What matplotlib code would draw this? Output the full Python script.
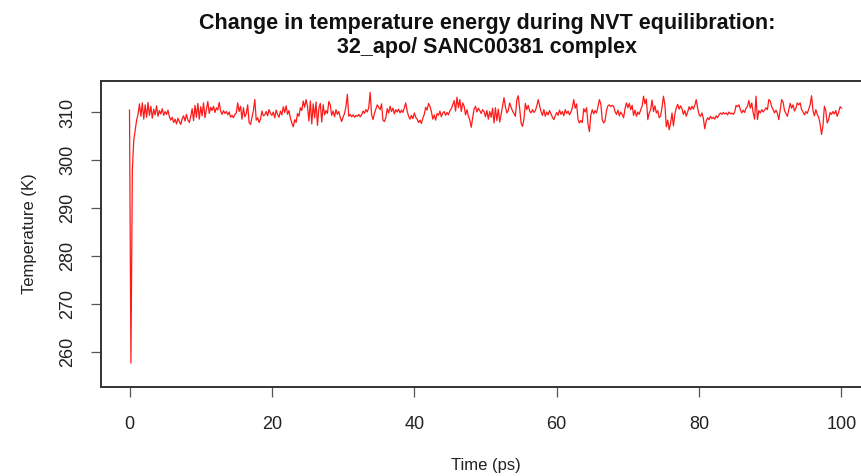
"""Temperature trace from the NVT equilibration run (32_apo / SANC00381)."""

import matplotlib

matplotlib.use("Agg")
import matplotlib.pyplot as plt
import numpy as np

TITLE = "Change in temperature energy during NVT equilibration:\n32_apo/ SANC00381 complex"
X_LABEL = "Time (ps)"
Y_LABEL = "Temperature (K)"

TIME_STEP_PS = 0.2  # energy frames written every 0.2 ps
X_TICKS = [0, 20, 40, 60, 80, 100]
Y_TICKS = [260, 270, 280, 290, 300, 310]

# temperature (K), one value per frame, 5 ps per row
temperature = [
    310.5, 257.6, 298.0, 304.2, 306.3, 308.4, 309.6, 311.8, 309.2, 312.0, 308.6, 311.6, 309.0, 312.1, 309.4, 311.3, 308.8, 310.7, 309.5, 311.4, 309.2, 310.4, 309.7, 310.8, 309.4,
    310.2, 309.6, 310.5, 309.1, 308.4, 309.0, 307.9, 308.6, 307.6, 308.8, 308.1, 307.5, 308.7, 309.3, 308.2, 309.6, 308.4, 307.9, 309.2, 310.8, 308.3, 311.5, 309.0, 311.9, 308.6,
    311.2, 309.3, 312.0, 308.9, 310.6, 312.3, 309.8, 311.1, 310.4, 311.3, 310.0, 311.0, 310.5, 312.1, 310.3, 309.6, 310.4, 309.8, 310.2, 309.5, 310.1, 309.0, 309.4, 308.9, 309.6,
    309.9, 312.0, 310.2, 311.3, 308.6, 311.0, 309.1, 309.8, 311.6, 307.9, 307.5, 308.9, 310.4, 312.7, 308.4, 308.9, 307.9, 308.6, 310.3, 309.3, 309.5, 310.2, 309.3, 310.6, 309.8,
    309.4, 310.1, 308.9, 310.5, 309.6, 309.0, 310.3, 309.5, 311.2, 310.0, 311.4, 309.6, 310.4, 308.8, 307.8, 307.0, 308.5, 307.9, 309.8, 309.2, 311.0, 310.4, 312.4, 311.1, 312.7,
    311.3, 308.2, 312.4, 307.6, 311.8, 308.9, 312.2, 307.3, 310.9, 311.9, 308.0, 311.6, 309.5, 310.4, 309.8, 312.3, 311.6, 309.4, 310.3, 309.1, 310.6, 309.6, 310.2, 309.0, 308.1,
    309.0, 309.8, 311.2, 313.8, 309.2, 309.6, 309.1, 309.5, 309.0, 309.4, 309.2, 309.6, 309.1, 309.5, 310.3, 309.8, 310.6, 310.1, 311.0, 314.2, 309.6, 308.5, 309.8, 310.7, 311.6,
    311.1, 310.6, 311.8, 308.4, 308.1, 308.9, 310.8, 309.9, 311.3, 310.2, 310.9, 309.7, 310.6, 310.1, 310.7, 309.9, 310.5, 310.0, 311.0, 312.0, 310.3, 309.2, 308.6, 309.4, 308.7,
    309.9, 309.0, 308.6, 307.9, 308.4, 307.7, 308.8, 309.6, 311.1, 310.5, 311.9, 311.3, 310.2, 308.6, 309.5, 308.4, 309.8, 309.4, 310.3, 309.1, 309.9, 310.2, 309.4, 310.0, 309.5,
    310.4, 310.8, 311.6, 312.5, 310.3, 313.2, 311.0, 312.7, 310.2, 312.0, 311.3, 309.5, 310.6, 309.2, 308.4, 306.9, 308.9, 310.7, 311.3, 310.1, 310.9, 310.4, 309.8, 310.6, 310.2,
    309.1, 310.4, 308.6, 310.2, 309.0, 310.9, 307.8, 311.0, 308.3, 310.7, 308.0, 309.6, 311.4, 313.1, 311.2, 309.9, 310.4, 312.0, 311.1, 310.3, 309.8, 309.2, 312.6, 313.5, 310.8,
    307.8, 307.1, 308.6, 311.9, 310.6, 311.5, 310.3, 309.9, 310.6, 310.0, 310.4, 311.3, 312.7, 311.4, 310.2, 309.4, 310.6, 309.2, 310.1, 309.5, 310.4, 309.7, 309.0, 308.5, 309.3,
    310.0, 309.4, 310.5, 309.6, 310.2, 309.3, 310.6, 309.8, 310.3, 309.5, 310.1, 311.0, 312.7, 310.9, 311.8, 308.5, 307.8, 308.3, 307.9, 310.8, 310.1, 311.0, 307.6, 306.0, 309.5,
    310.6, 309.7, 310.4, 309.9, 311.2, 312.7, 311.8, 308.5, 307.8, 308.3, 310.4, 311.4, 311.6, 311.2, 311.5, 311.3, 310.2, 309.6, 310.5, 309.3, 310.1, 309.6, 308.9, 310.8, 312.0,
    311.0, 311.9, 310.6, 311.5, 309.4, 310.5, 309.2, 310.1, 309.6, 310.6, 311.3, 313.4, 311.8, 312.8, 308.5, 309.9, 310.6, 312.6, 310.2, 311.4, 309.9, 310.4, 308.9, 309.3, 311.1,
    313.4, 311.6, 307.0, 308.4, 306.4, 307.8, 309.9, 307.2, 309.6, 311.0, 311.7, 310.7, 311.4, 310.8, 309.6, 310.4, 309.2, 310.1, 311.2, 310.6, 311.3, 310.7, 311.5, 312.7, 310.9,
    309.6, 309.2, 309.9, 308.8, 306.6, 308.2, 308.9, 308.5, 309.2, 308.7, 309.0, 308.6, 309.3, 308.9, 309.5, 309.9, 309.6, 310.0, 309.7, 309.9, 309.5, 310.1, 309.7, 309.9, 309.6,
    310.1, 311.5, 311.2, 311.6, 310.6, 309.9, 310.5, 310.0, 310.9, 311.3, 312.5, 310.9, 312.0, 309.9, 308.6, 313.4, 308.5, 310.4, 309.9, 310.6, 310.1, 310.5, 311.0, 310.6, 312.7,
    312.4, 311.2, 310.6, 309.9, 310.5, 309.8, 308.5, 310.6, 312.7, 312.2, 310.4, 309.8, 309.2, 310.5, 311.9, 310.9, 311.6, 310.3, 310.9, 312.0, 311.6, 312.0, 310.6, 310.1, 309.5,
    310.2, 309.8, 310.7, 311.6, 313.5, 310.4, 309.3, 310.6, 309.6, 309.0, 307.6, 305.4, 307.2, 311.3, 310.4, 307.8, 308.5, 310.0, 309.6, 310.2, 309.7, 310.4, 309.2, 310.0, 311.2,
    310.9,
]

time_ps = np.arange(len(temperature)) * TIME_STEP_PS

plt.rcParams["font.family"] = ["Liberation Sans", "DejaVu Sans"]

fig = plt.figure(figsize=(8.62, 4.76), dpi=100)
# base-graphics style box: x range padded 4% each side, runs off the right edge
ax = fig.add_axes([0.1172, 0.187, 0.892, 0.643])
ax.plot(time_ps, temperature, color="#ff1a1a", linewidth=0.9)

ax.set_xlim(-4, 104)
ax.set_ylim(252.6, 316.6)
ax.set_xticks(X_TICKS)
ax.set_yticks(Y_TICKS)

for side in ("top", "right", "bottom", "left"):
    ax.spines[side].set_color("#333333")
    ax.spines[side].set_linewidth(1.4)

ax.tick_params(axis="both", direction="out", length=7, width=0.9, color="#555555",
               labelsize=13, labelcolor="#222222")
ax.tick_params(axis="x", pad=14)
ax.tick_params(axis="y", pad=11)
for lbl in ax.get_yticklabels():
    lbl.set_rotation(90)
    lbl.set_va("center")

ax.set_xlabel(X_LABEL, fontsize=12, color="#222222", labelpad=18)
ax.set_ylabel(Y_LABEL, fontsize=12, color="#222222", labelpad=16)
fig.text(0.565, 0.972, TITLE, ha="center", va="top", fontsize=15.5, fontweight="bold",
         linespacing=1.15, color="#111111")

fig.savefig("out.png", dpi=100)
